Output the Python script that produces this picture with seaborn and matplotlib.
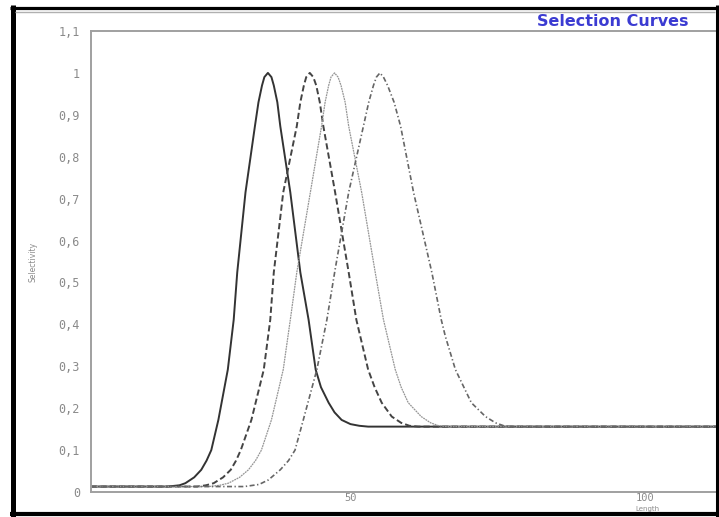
import matplotlib
matplotlib.use("Agg")
import matplotlib.pyplot as plt
import seaborn as sns
import pandas as pd
from matplotlib.lines import Line2D

# ---- data (Length, Selectivity) ----
len_a = [6, 19.0, 21.0, 22.0, 23.5, 24.7, 25.6, 26.4, 27.6, 29.2, 30.2, 30.8, 32.2, 33.8,
         34.4, 35.0, 35.4, 36.0, 36.6, 37.0, 37.6, 38.1, 39.8, 41.5, 42.9, 44.1, 45.0,
         46.3, 47.3, 48.5, 50.0, 51.5, 53.0, 112.5]
sel_a = [0.013, 0.013, 0.016, 0.021, 0.035, 0.053, 0.075, 0.100, 0.172, 0.292, 0.411, 0.524, 0.715, 0.873,
         0.93, 0.97, 0.99, 1.0, 0.99, 0.97, 0.93, 0.873, 0.715, 0.524, 0.411, 0.292, 0.250,
         0.213, 0.190, 0.172, 0.162, 0.158, 0.156, 0.156]

len_b = [6, 24.0, 25.5, 26.8, 28.4, 29.7, 30.6, 31.4, 33.2, 35.3, 36.4, 37.0, 38.6, 40.9,
         41.5, 42.1, 42.5, 43.1, 43.7, 44.2, 44.8, 45.4, 47.4, 49.7, 51.0, 53.0, 54.1,
         55.3, 57.0, 58.6, 60.0, 61.5, 112.5]
sel_b = [0.013, 0.013, 0.016, 0.021, 0.035, 0.053, 0.075, 0.100, 0.172, 0.292, 0.411, 0.524, 0.715, 0.873,
         0.93, 0.97, 0.99, 1.0, 0.99, 0.97, 0.93, 0.873, 0.715, 0.524, 0.411, 0.292, 0.250,
         0.213, 0.180, 0.165, 0.158, 0.156, 0.156]

len_c = [6, 26.0, 27.8, 29.3, 31.2, 32.7, 33.9, 34.9, 36.6, 38.6, 39.8, 40.9, 43.2, 45.1,
         45.7, 46.3, 46.7, 47.3, 47.9, 48.4, 49.1, 49.7, 51.9, 54.2, 55.6, 57.6, 58.6,
         59.8, 62.0, 63.6, 65.0, 66.5, 112.5]
sel_c = [0.013, 0.013, 0.016, 0.021, 0.035, 0.053, 0.075, 0.100, 0.172, 0.292, 0.411, 0.524, 0.715, 0.873,
         0.93, 0.97, 0.99, 1.0, 0.99, 0.97, 0.93, 0.873, 0.715, 0.524, 0.411, 0.292, 0.250,
         0.213, 0.180, 0.165, 0.158, 0.156, 0.156]

len_d = [6, 32.0, 34.5, 36.1, 38.1, 39.5, 40.6, 42.0, 44.3, 46.0, 47.4, 49.7, 52.2,
         53.1, 53.9, 54.4, 55.0, 55.6, 56.3, 57.4, 58.5, 60.7, 63.8, 65.4, 66.1, 67.8,
         70.5, 72.9, 74.6, 76.0, 77.5, 112.5]
sel_d = [0.013, 0.013, 0.018, 0.029, 0.053, 0.075, 0.100, 0.172, 0.292, 0.411, 0.531, 0.715, 0.873,
         0.93, 0.97, 0.99, 1.0, 0.99, 0.97, 0.93, 0.873, 0.715, 0.524, 0.411, 0.371, 0.292,
         0.213, 0.180, 0.165, 0.158, 0.156, 0.156]

y_ticks = [0, 0.1, 0.2, 0.3, 0.4, 0.5, 0.6, 0.7, 0.8, 0.9, 1.0, 1.1]
y_tick_labels = ["0", "0,1", "0,2", "0,3", "0,4", "0,5", "0,6", "0,7", "0,8", "0,9", "1", "1,1"]
x_ticks = [50, 100]
x_tick_labels = ["50", "100"]

title_text = "Selection Curves"
x_label = "Length"
y_label = "Selectivity"

# ---- styling ----
sns.set_style("white")
plt.rcParams['font.family'] = ['DejaVu Sans']

W, H = 719, 517
fig = plt.figure(figsize=(W / 100, H / 100), dpi=100)
fig.patch.set_facecolor("white")
ax = fig.add_axes([91 / W, 1 - 492 / H, 1 - 91 / W, (492 - 31) / H])

curves = [
    (len_a, sel_a, dict(color="#333333", lw=1.4, dashes=None)),
    (len_b, sel_b, dict(color="#444444", lw=1.4, dashes=(3.2, 1.6))),
    (len_c, sel_c, dict(color="#959595", lw=0.9, dashes=(1.5, 0.6))),
    (len_d, sel_d, dict(color="#666666", lw=1.2, dashes=(3.0, 1.5, 0.8, 1.5))),
]

for lens, sels, st in curves:
    df = pd.DataFrame({"Length": lens, "Selectivity": sels})
    line_ax = sns.lineplot(data=df, x="Length", y="Selectivity", ax=ax,
                           estimator=None, sort=False, color=st["color"], lw=st["lw"])
    ln = line_ax.lines[-1]
    ln.set_solid_joinstyle("round")
    if st["dashes"] is not None:
        ln.set_dashes(st["dashes"])

ax.set_xlim(6, 112.5)
ax.set_ylim(0, 1.1)

ax.set_yticks(y_ticks)
ax.set_yticklabels(y_tick_labels, family="DejaVu Sans Mono", fontsize=8.5, color="#8a8a8a")
ax.set_xticks(x_ticks)
ax.set_xticklabels(x_tick_labels, family="DejaVu Sans Mono", fontsize=7.5, color="#8a8a8a")
ax.tick_params(axis="y", direction="out", length=4, width=1, color="#aaaaaa", pad=4)
ax.tick_params(axis="x", direction="in", length=3, width=1, color="#bbbbbb", pad=1.0)

for s in ["left", "bottom", "top"]:
    ax.spines[s].set_visible(True)
    ax.spines[s].set_color("#a0a0a0")
    ax.spines[s].set_linewidth(1.4)
ax.spines["right"].set_visible(False)

ax.set_xlabel("")
ax.set_ylabel("")
fig.text(647 / W, 1 - 509.5 / H, x_label, ha="center", va="center",
         fontsize=5, color="#8a8a8a")
fig.text(33 / W, 1 - 262 / H, y_label, ha="center", va="center", rotation=90,
         fontsize=5.5, color="#8a8a8a")
fig.text(613 / W, 1 - 22 / H, title_text, ha="center", va="center",
         fontsize=11.5, fontweight="bold", color="#3b3bd2")

# ---- frame around the figure ----
def fline(x0, y0, x1, y1, lw, color):
    fig.add_artist(Line2D([x0 / W, x1 / W], [1 - y0 / H, 1 - y1 / H],
                          transform=fig.transFigure, lw=lw, color=color,
                          solid_capstyle="butt"))

fline(12.5, 5, 12.5, 517, 3.6, "black")       # left
fline(10, 7.5, 719, 7.5, 2.3, "black")        # top
fline(10, 514, 719, 514, 3.0, "black")        # bottom
fline(717, 5, 717, 517, 2.2, "black")         # right
fline(15, 12, 715, 12, 1.0, "#b0b0b0")        # inner top

fig.savefig("out.png", dpi=100, facecolor="white")
